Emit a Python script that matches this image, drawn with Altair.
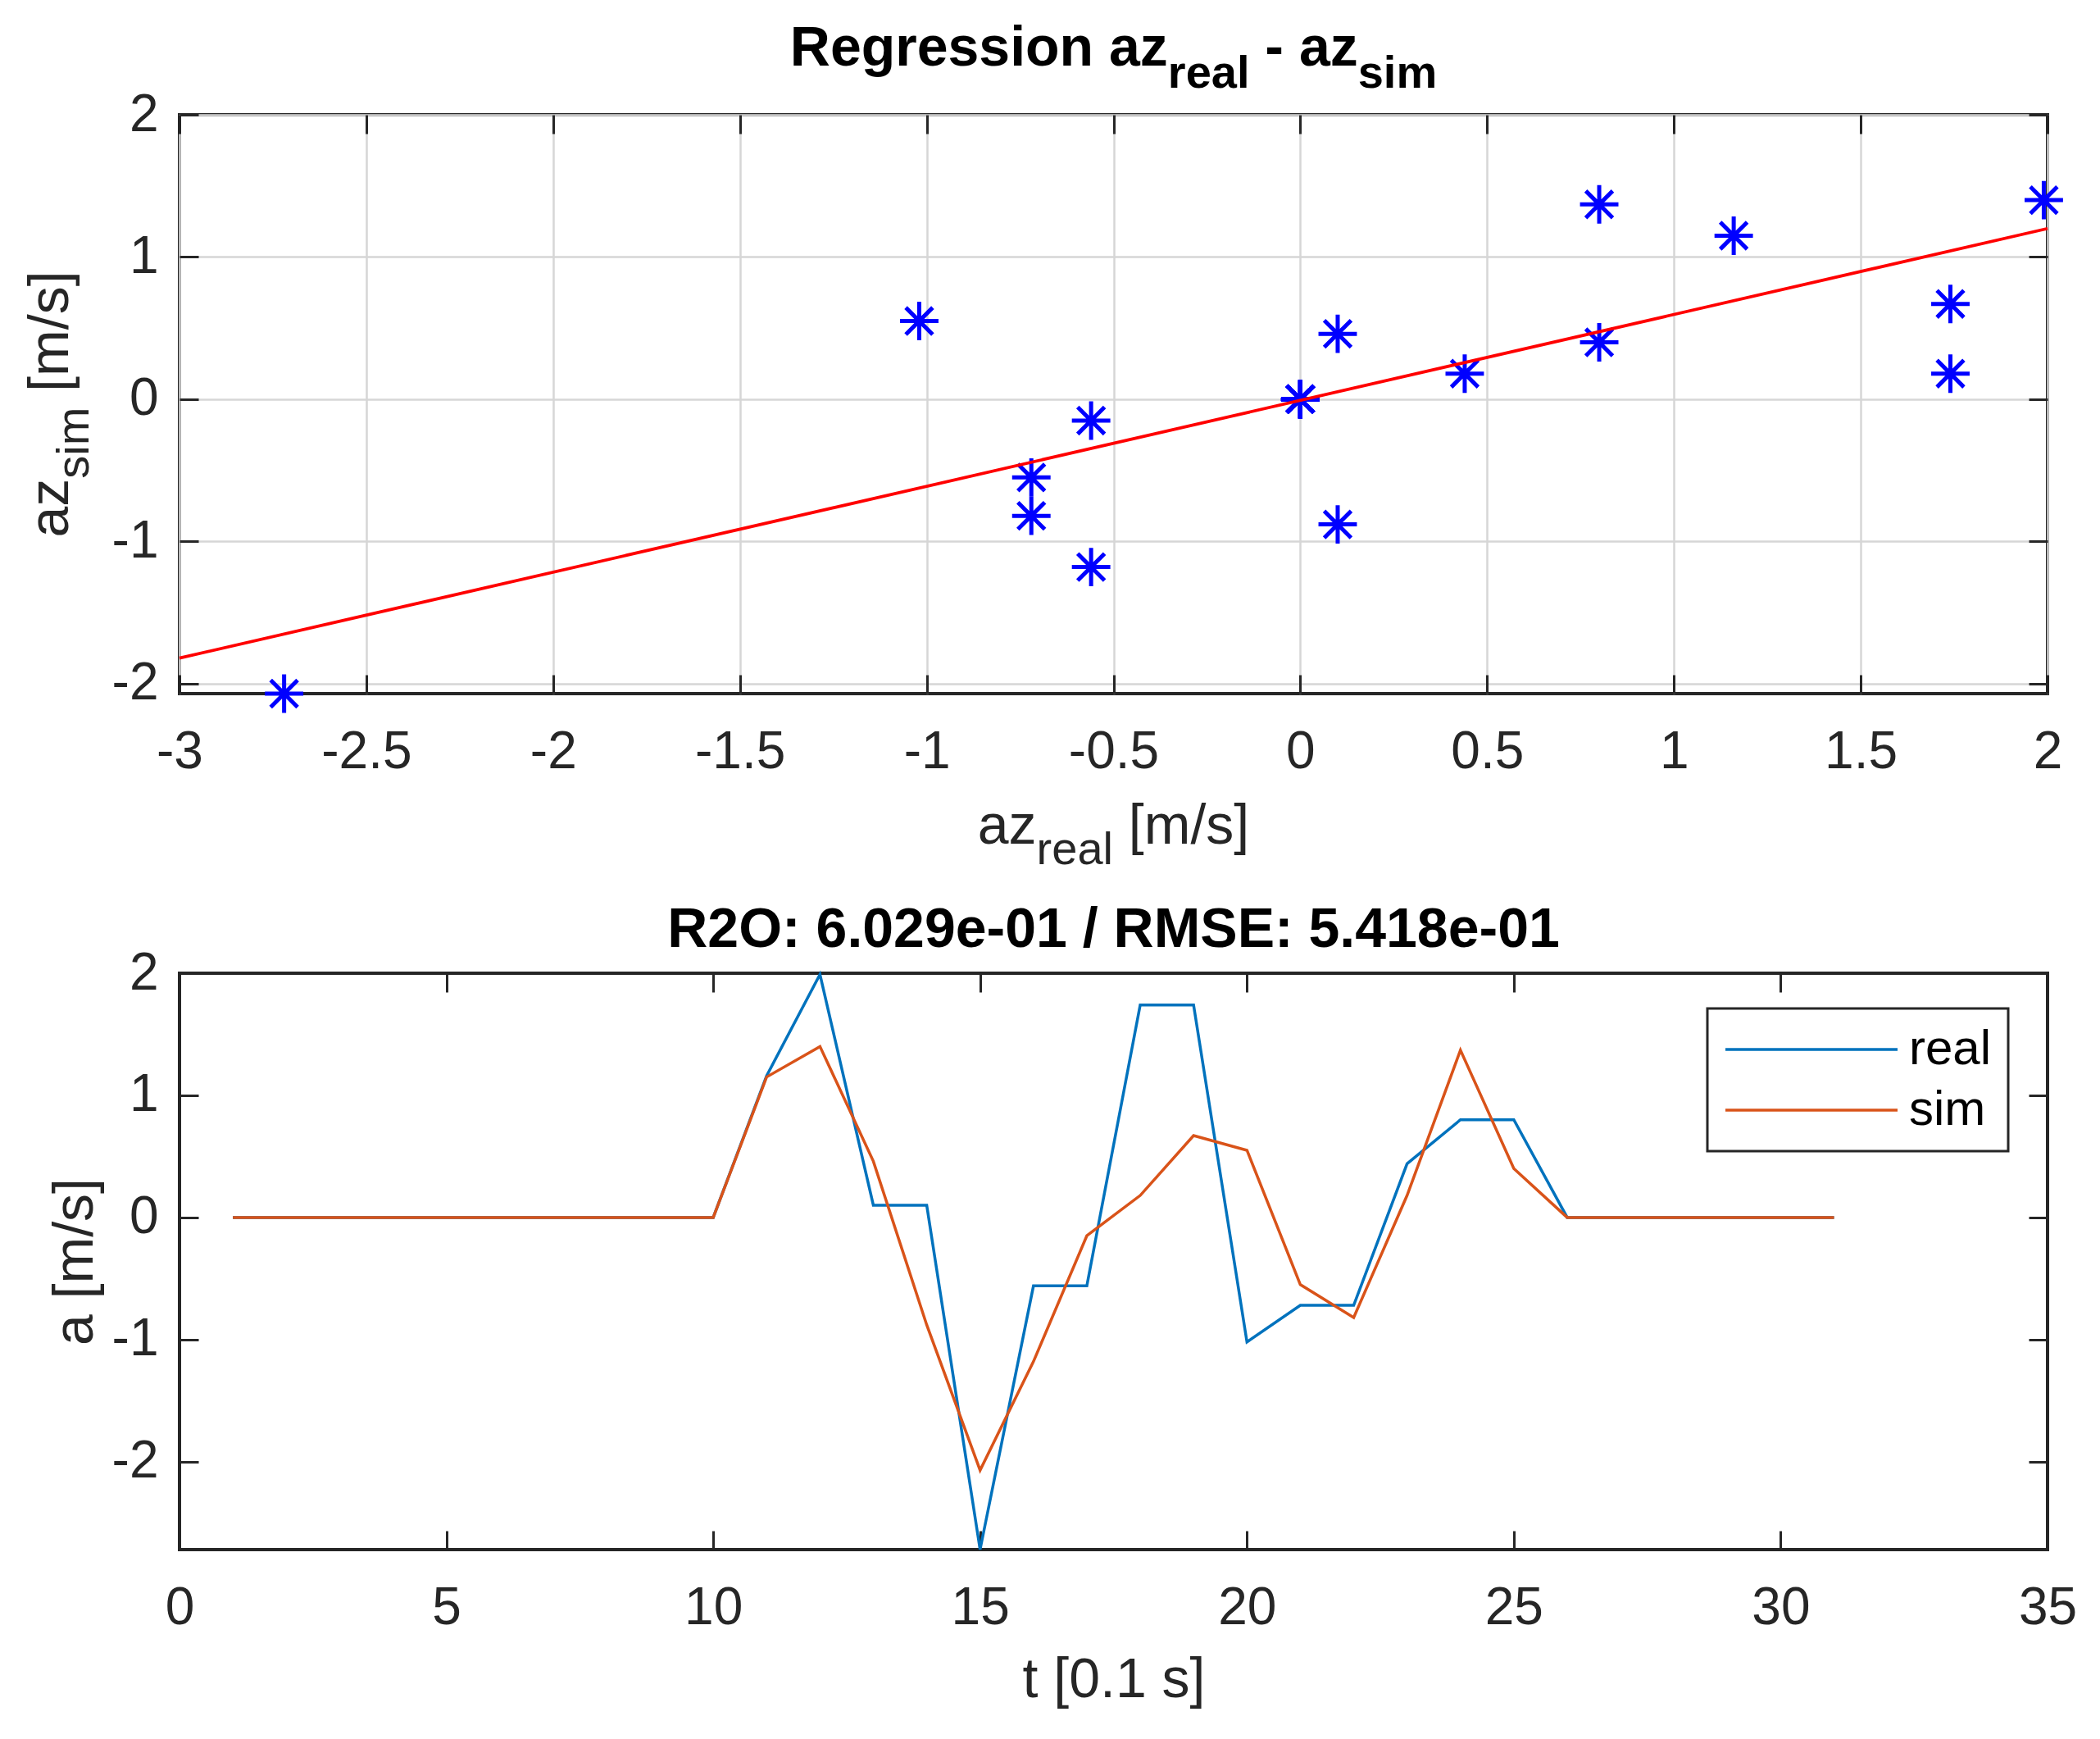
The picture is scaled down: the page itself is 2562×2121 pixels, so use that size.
import altair as alt
import pandas as pd

# ---------------- data ----------------
t = [1, 2, 3, 4, 5, 6, 7, 8, 9, 10, 11, 12, 13, 14, 15, 16, 17, 18, 19, 20,
     21, 22, 23, 24, 25, 26, 27, 28, 29, 30, 31]
real = [0, 0, 0, 0, 0, 0, 0, 0, 0, 0,
        1.16, 1.99, 0.10, 0.10, -2.72, -0.56, -0.56, 1.74, 1.74, -1.02,
        -0.72, -0.72, 0.44, 0.80, 0.80, 0, 0, 0, 0, 0, 0]
sim = [0, 0, 0, 0, 0, 0, 0, 0, 0, 0,
       1.15, 1.40, 0.46, -0.88, -2.07, -1.18, -0.15, 0.18, 0.67, 0.55,
       -0.55, -0.82, 0.18, 1.37, 0.40, 0, 0, 0, 0, 0, 0]

reg_x = [-3.0, 2.0]
reg_y = [-1.82, 1.20]

series_names = ["real", "sim"]
series_colors = ["#0072BD", "#D95319"]

top_xticks = [-3, -2.5, -2, -1.5, -1, -0.5, 0, 0.5, 1, 1.5, 2]
top_yticks = [-2, -1, 0, 1, 2]
bot_xticks = [0, 5, 10, 15, 20, 25, 30, 35]
bot_yticks = [-2, -1, 0, 1, 2]

top_xdomain = [-3, 2]
top_ydomain = [-2.07, 2]
bot_xdomain = [0, 35]
bot_ydomain = [-2.72, 2]

# text pieces (main text + subscript)
title_top_parts = ["Regression az", "real", " - az", "sim"]
xlab_top_parts = ["az", "real", " [m/s]"]
ylab_top_parts = ["az", "sim", " [m/s]"]
title_bot = "R2O: 6.029e-01 / RMSE: 5.418e-01"
xlab_bot = "t [0.1 s]"
ylab_bot = "a [m/s]"

# ---------------- frames ----------------
scatter_df = pd.DataFrame({"real": real, "sim": sim})
reg_df = pd.DataFrame({"x": reg_x, "y": reg_y})
ts_df = pd.DataFrame({
    "t": t + t,
    "a": real + sim,
    "series": ["real"] * len(t) + ["sim"] * len(t),
})

FONT = "Liberation Sans"
AX = "#262626"
TICK = 23
LBL = "'' + datum.value"
W, H_TOP, H_BOT = 2279, 706, 703
MAIN, SUB, SUBDROP = 68, 56, 27
SPACE = 0.278

asterisk = "M0,-1L0,1M-1,0L1,0M-0.7,-0.7L0.7,0.7M-0.7,0.7L0.7,-0.7"


def main_x(values, grid, title=None, tpad=22):
    kw = dict(orient="bottom", values=values, labelExpr=LBL, grid=grid,
              gridColor="#d6d6d6", gridWidth=2.5, offset=-TICK,
              tickSize=TICK, labelPadding=39, labelFlush=False,
              labelOverlap=False, domain=False, title=title)
    if title:
        kw["titlePadding"] = tpad
    return alt.Axis(**kw)


def main_y(values, grid, title=None, tpad=10):
    kw = dict(orient="left", values=values, labelExpr=LBL, grid=grid,
              gridColor="#d6d6d6", gridWidth=2.5, offset=-TICK,
              tickSize=TICK, labelPadding=26, labelFlush=False,
              labelOverlap=False, domain=False, title=title)
    if title:
        kw["titlePadding"] = tpad
    return alt.Axis(**kw)


def sec_x(values):
    return alt.Axis(orient="top", values=values, labels=False, grid=False,
                    offset=-TICK, tickSize=TICK, domain=False, title=None)


def sec_y(values):
    return alt.Axis(orient="right", values=values, labels=False, grid=False,
                    offset=-TICK, tickSize=TICK, domain=False, title=None)


def label_piece(text, x, y, size, weight="normal", color=AX, angle=0):
    kw = dict(align="left", baseline="alphabetic", font=FONT, fontSize=size,
              fontWeight=weight, color=color)
    if angle:
        kw["angle"] = angle
    return alt.Chart(pd.DataFrame({"s": [text]})).mark_text(**kw).encode(
        text="s:N", x=alt.value(x), y=alt.value(y))


# approximate advance widths (Arial / Liberation Sans metrics, per em)
def w_bold(s):
    m = {"R": .722, "e": .556, "g": .611, "r": .389, "s": .556, "i": .278,
         "o": .611, "n": .611, " ": .278, "a": .556, "z": .5, "l": .278,
         "m": .889, "-": .333}
    return sum(m[c] for c in s)


def w_norm(s):
    m = {"a": .556, "z": .5, "r": .333, "e": .556, "l": .222, " ": .278,
         "[": .278, "m": .833, "/": .278, "s": .5, "]": .278, "i": .222}
    return sum(m[c] for c in s)


def lead(p, size):
    """leading spaces are collapsed in SVG: return stripped text and shift"""
    n = len(p) - len(p.lstrip(" "))
    return p.lstrip(" "), n * SPACE * size


# ---------------- top: regression ----------------
xs_top = alt.Scale(domain=top_xdomain, nice=False, zero=False)
ys_top = alt.Scale(domain=top_ydomain, nice=False, zero=False)

pts = alt.Chart(scatter_df).mark_point(
    shape=asterisk, filled=False, stroke="#0000FF", strokeWidth=5, size=2200,
    opacity=1
).encode(
    x=alt.X("real:Q", scale=xs_top, axis=main_x(top_xticks, True)),
    y=alt.Y("sim:Q", scale=ys_top, axis=main_y(top_yticks, True)),
)

reg = alt.Chart(reg_df).mark_line(color="#FF0000", strokeWidth=3.8).encode(
    x=alt.X("x:Q", scale=xs_top, axis=sec_x(top_xticks)),
    y=alt.Y("y:Q", scale=ys_top, axis=sec_y(top_yticks)),
)

# title with subscripts
sizes_t = [MAIN, SUB, MAIN, SUB]
widths_t = [w_bold(p) * s for p, s in zip(title_top_parts, sizes_t)]
xpos = W / 2 - sum(widths_t) / 2
title_layers = []
for p, s, wdt in zip(title_top_parts, sizes_t, widths_t):
    txt, sh = lead(p, s)
    yb = -60 if s == MAIN else -60 + SUBDROP
    title_layers.append(label_piece(txt, xpos + sh, yb, s, "bold", "#000000"))
    xpos += wdt

# x axis title with subscript
sizes_x = [MAIN, SUB, MAIN]
widths_x = [w_norm(p) * s for p, s in zip(xlab_top_parts, sizes_x)]
xpos = W / 2 - sum(widths_x) / 2
xlab_layers = []
for p, s, wdt in zip(xlab_top_parts, sizes_x, widths_x):
    txt, sh = lead(p, s)
    yb = H_TOP + 183 if s == MAIN else H_TOP + 183 + SUBDROP - 2
    xlab_layers.append(label_piece(txt, xpos + sh, yb, s))
    xpos += wdt

# y axis title with subscript (rotated, reading upwards)
widths_y = [w_norm(p) * s for p, s in zip(ylab_top_parts, sizes_x)]
ypos = H_TOP / 2 + sum(widths_y) / 2
ylab_layers = []
for p, s, wdt in zip(ylab_top_parts, sizes_x, widths_y):
    txt, sh = lead(p, s)
    xb = -136 if s == MAIN else -136 + SUBDROP - 2
    ylab_layers.append(label_piece(txt, xb, ypos - sh, s, angle=270))
    ypos -= wdt

top = alt.layer(pts, reg, *title_layers, *xlab_layers, *ylab_layers).resolve_axis(
    x="independent", y="independent"
).properties(width=W, height=H_TOP)

# ---------------- bottom: time series ----------------
xs_bot = alt.Scale(domain=bot_xdomain, nice=False, zero=False)
ys_bot = alt.Scale(domain=bot_ydomain, nice=False, zero=False)
cscale = alt.Scale(domain=series_names, range=series_colors)

legend = alt.Legend(
    title=None, orient="none", legendX=1864, legendY=1090, symbolType="stroke",
    symbolSize=44100, symbolStrokeWidth=3.5, clipHeight=60,
    labelFontSize=60, labelFont=FONT, labelColor="#000000", labelOffset=12,
    padding=20, rowPadding=14, strokeColor=AX, fillColor="#FFFFFF",
)

line_real = alt.Chart(ts_df).transform_filter(alt.datum.series == "real").mark_line(
    strokeWidth=3.5
).encode(
    x=alt.X("t:Q", scale=xs_bot, axis=main_x(bot_xticks, False, xlab_bot, 22)),
    y=alt.Y("a:Q", scale=ys_bot, axis=main_y(bot_yticks, False, ylab_bot, 10)),
    color=alt.Color("series:N", scale=cscale, legend=legend),
)

line_sim = alt.Chart(ts_df).transform_filter(alt.datum.series == "sim").mark_line(
    strokeWidth=3.5
).encode(
    x=alt.X("t:Q", scale=xs_bot, axis=sec_x(bot_xticks)),
    y=alt.Y("a:Q", scale=ys_bot, axis=sec_y(bot_yticks)),
    color=alt.Color("series:N", scale=cscale, legend=legend),
)

bot_title = alt.Chart(pd.DataFrame({"s": [title_bot]})).mark_text(
    align="center", baseline="alphabetic", font=FONT, fontSize=MAIN,
    fontWeight="bold", color="#000000"
).encode(text="s:N", x=alt.value(W / 2), y=alt.value(-32))

bottom = alt.layer(line_real, line_sim, bot_title).resolve_axis(
    x="independent", y="independent"
).properties(width=W, height=H_BOT)

chart = alt.vconcat(top, bottom, spacing=32).properties(
    padding={"left": 18, "top": 16, "right": 5, "bottom": 5},
    background="#FFFFFF",
).configure_view(
    stroke=AX, strokeWidth=4
).configure_axis(
    labelFont=FONT, labelFontSize=64, labelColor=AX,
    titleFont=FONT, titleFontSize=68, titleFontWeight="normal", titleColor=AX,
    tickColor=AX, tickWidth=3,
).configure_legend(
    strokeWidth=3
)

chart.save("out.html", embed_options={"renderer": "svg", "actions": False})
